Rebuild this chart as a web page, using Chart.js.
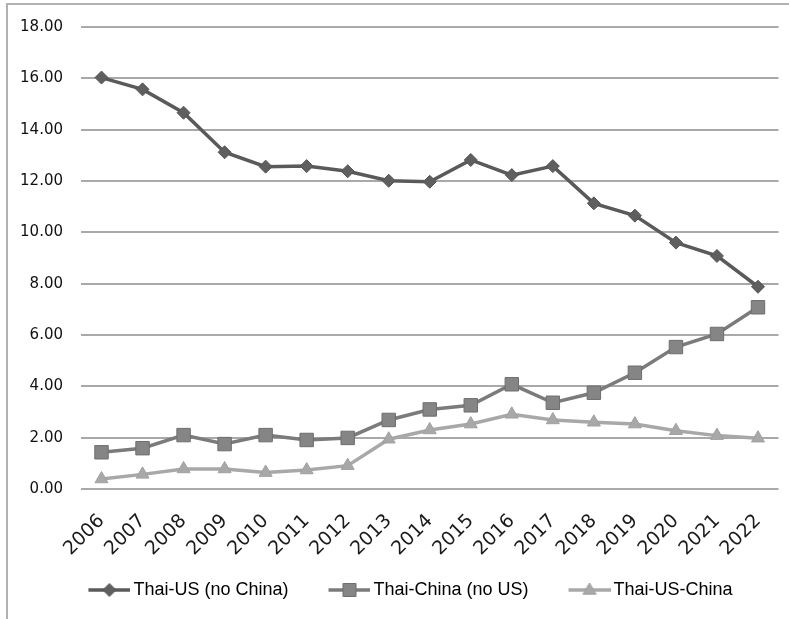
<!DOCTYPE html>
<html>
<head>
<meta charset="utf-8">
<script src="https://cdn.jsdelivr.net/npm/chart.js@4"></script>
<style>
  html, body { margin: 0; padding: 0; background: #ffffff; }
  #wrap { position: absolute; left: 0; top: 0; width: 789px; height: 619px; }
  #frame { position: absolute; left: 6px; top: 3px; width: 800px; height: 640px;
           border-left: 2px solid #b2b2b2; border-top: 2px solid #b2b2b2; pointer-events: none; }
</style>
</head>
<body>
<div id="wrap"><canvas id="c"></canvas></div>
<div id="frame"></div>
<script>
const years = ["2006","2007","2008","2009","2010","2011","2012","2013","2014","2015","2016","2017","2018","2019","2020","2021","2022"];
const thaiUS = [16.03, 15.57, 14.66, 13.12, 12.56, 12.58, 12.38, 12.01, 11.97, 12.82, 12.23, 12.58, 11.13, 10.65, 9.60, 9.08, 7.88];
const thaiChina = [1.43, 1.59, 2.10, 1.75, 2.10, 1.91, 1.99, 2.69, 3.10, 3.26, 4.08, 3.36, 3.75, 4.53, 5.53, 6.04, 7.08];
const thaiUSChina = [0.39, 0.57, 0.78, 0.78, 0.64, 0.74, 0.91, 1.94, 2.30, 2.53, 2.91, 2.69, 2.60, 2.53, 2.27, 2.08, 1.98];
const seriesNames = ["Thai-US (no China)", "Thai-China (no US)", "Thai-US-China"];
const yTicks = [0, 2, 4, 6, 8, 10, 12, 14, 16, 18];

const styles = [
  { line: '#5a5a5a', fill: '#5f5f5f', border: '#555555', shape: 'rectRot', r: 6.5 },
  { line: '#7b7b7b', fill: '#858585', border: '#6e6e6e', shape: 'rect', r: 9.5 },
  { line: '#a8a8a8', fill: '#a8a8a8', border: '#a0a0a0', shape: 'triangle', r: 7.5 }
];

const ICON_W = 66;   // legend box width used by Chart.js layout
const ICON_C = 78;   // canvas width of the legend icon image
function makeIcon(st) {
  const c = document.createElement('canvas');
  c.width = ICON_C; c.height = 18;
  const g = c.getContext('2d');
  const x0 = ICON_C - 42, x1 = ICON_C, cy = 9, cx = (x0 + x1) / 2;
  g.strokeStyle = st.line; g.lineWidth = 3.5;
  g.beginPath(); g.moveTo(x0, cy); g.lineTo(x1, cy); g.stroke();
  g.fillStyle = st.fill; g.strokeStyle = st.border; g.lineWidth = 1;
  g.beginPath();
  if (st.shape === 'rectRot') {
    const s = 6.5;
    g.moveTo(cx, cy - s); g.lineTo(cx + s, cy); g.lineTo(cx, cy + s); g.lineTo(cx - s, cy); g.closePath();
  } else if (st.shape === 'rect') {
    const s = 6.5;
    g.rect(cx - s, cy - s, 2 * s, 2 * s);
  } else {
    const s = 7;
    g.moveTo(cx, cy - s); g.lineTo(cx + s * 0.95, cy + s * 0.6); g.lineTo(cx - s * 0.95, cy + s * 0.6); g.closePath();
  }
  g.fill(); g.stroke();
  return c;
}
const icons = styles.map(makeIcon);

const dataArrays = [thaiUS, thaiChina, thaiUSChina];
const datasets = dataArrays.map((arr, i) => ({
  label: seriesNames[i],
  data: arr,
  borderColor: styles[i].line,
  backgroundColor: styles[i].fill,
  borderWidth: 3.5,
  pointStyle: styles[i].shape,
  pointRadius: styles[i].r,
  pointBackgroundColor: styles[i].fill,
  pointBorderColor: styles[i].border,
  pointBorderWidth: 1,
  tension: 0,
  fill: false
}));

new Chart(document.getElementById('c'), {
  type: 'line',
  data: { labels: years, datasets: datasets },
  options: {
    responsive: true,
    maintainAspectRatio: false,
    animation: false,
    layout: { padding: { left: 12, right: 10, top: 27, bottom: 10 } },
    plugins: {
      tooltip: { enabled: false },
      legend: {
        position: 'bottom',
        labels: {
          usePointStyle: true,
          pointStyleWidth: ICON_W,
          padding: 10,
          color: '#2a2a2a',
          font: { family: 'Liberation Sans', size: 18 },
          generateLabels: (chart) => seriesNames.map((n, i) => ({
            text: n, pointStyle: icons[i], fillStyle: styles[i].fill,
            strokeStyle: styles[i].line, lineWidth: 0, hidden: false, datasetIndex: i
          }))
        }
      }
    },
    scales: {
      x: {
        offset: true,
        grid: { display: false, drawTicks: false },
        border: { display: false },
        ticks: {
          autoSkip: false, minRotation: 45, maxRotation: 45, padding: 21,
          color: '#1a1a1a',
          font: { family: 'DejaVu Sans', size: 19 }
        },
        afterFit: (s) => { s.height = 82; s.paddingLeft = 0; s.paddingRight = 0; }
      },
      y: {
        min: 0, max: 18,
        afterBuildTicks: (s) => { s.ticks = yTicks.map(v => ({ value: v })); },
        grid: { color: '#a9a9a9', lineWidth: 2, drawTicks: false },
        border: { display: false },
        ticks: {
          padding: 18, color: '#111111',
          font: { family: 'DejaVu Sans', size: 15 },
          callback: (v) => Number(v).toFixed(2)
        },
        afterFit: (s) => { s.width = 69; s.paddingTop = 0; s.paddingBottom = 0; }
      }
    }
  }
});
</script>
</body>
</html>
